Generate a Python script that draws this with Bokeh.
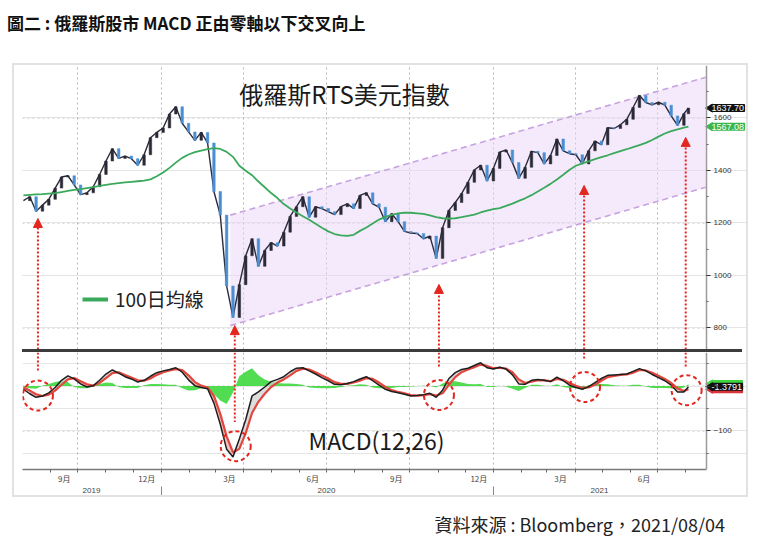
import numpy as np
import pandas as pd
from bokeh.plotting import figure
from bokeh.core.properties import value
from bokeh.models import (ColumnDataSource, Range1d, LinearAxis, FixedTicker, Grid, Label,
                          Legend, LegendItem, Arrow, NormalHead, Div, Spacer, CustomJSTickFormatter)
from bokeh.layouts import column
from bokeh.embed import file_html
from bokeh.resources import INLINE

FONT = "Noto Sans CJK TC"

# ---------------- data ----------------
week_dates = list(pd.date_range("2019-08-02", "2021-07-30", freq="W-FRI")) + [pd.Timestamp("2021-08-04")]

rts_close = [
    1285, 1300, 1245, 1268, 1290, 1333, 1375, 1380, 1345, 1308,
    1315, 1338, 1385, 1436, 1483, 1446, 1455, 1445, 1420, 1460,
    1525, 1545, 1562, 1615, 1643, 1580, 1547, 1515, 1545, 1505,
    1320, 1230, 960, 840, 965, 1075, 1140, 1035, 1095, 1125,
    1112, 1165, 1225, 1262, 1300, 1222, 1262, 1255, 1243, 1232,
    1262, 1273, 1255, 1305, 1315, 1273, 1260, 1205, 1235, 1205,
    1168, 1162, 1160, 1140, 1150, 1065, 1182, 1248, 1278, 1312,
    1355, 1402, 1420, 1360, 1408, 1470, 1478, 1430, 1370, 1412,
    1473, 1468, 1425, 1457, 1520, 1475, 1464, 1460, 1425, 1475,
    1512, 1498, 1563, 1560, 1574, 1595, 1640, 1686, 1659, 1650,
    1660, 1649, 1608, 1572, 1616, 1637.70]

ma100 = [
    1305, 1307, 1309, 1310, 1312, 1314, 1318, 1322, 1326, 1329,
    1333, 1337, 1341, 1345, 1349, 1352, 1355, 1357, 1359, 1361,
    1366, 1378, 1392, 1410, 1430, 1448, 1461, 1470, 1476, 1481,
    1485, 1482, 1471, 1452, 1418, 1399, 1382, 1358, 1336, 1314,
    1295, 1272, 1255, 1240, 1226, 1212, 1197, 1182, 1168, 1158,
    1153, 1151, 1155, 1170, 1183, 1198, 1213, 1223, 1231, 1237,
    1239, 1239, 1237, 1235, 1229, 1222, 1218, 1217, 1218, 1222,
    1227, 1232, 1240, 1247, 1253, 1257, 1265, 1274, 1284, 1294,
    1306, 1320, 1334, 1349, 1366, 1384, 1403, 1418, 1427, 1435,
    1443, 1451, 1458, 1466, 1474, 1481, 1489, 1497, 1505, 1516,
    1529, 1541, 1550, 1557, 1563, 1567.08]

macd_line = [
    -7, -17, -25, -22, -15, -3, 13, 23, 16, 5,
    -2, 1, 13, 27, 36, 29, 21, 16, 9, 13,
    22, 30, 34, 37, 41, 31, 14, 1, -3, -6,
    -38, -85, -141, -158, -118, -75, -22, -13, -2, 10,
    15, 21, 32, 40, 41, 34, 27, 19, 12, 4,
    3, 6, 10, 16, 21, 12, 2, -7, -12, -15,
    -18, -22, -21, -19, -16, -25, -9, 17, 30, 37,
    40, 46, 52, 41, 38, 42, 38, 25, 5, 4,
    13, 15, 13, 10, 20, 12, 2, -3, -7, -1,
    8, 17, 24, 25, 26, 27, 33, 39, 34, 26,
    19, 12, 2, -13, -13, -1.3791]

signal_line = [
    -3, -10, -18, -22, -19, -10, 3, 15, 18, 11,
    4, 1, 7, 18, 29, 31, 25, 19, 13, 12,
    17, 25, 31, 35, 38, 36, 24, 9, 1, -3,
    -22, -62, -112, -148, -140, -105, -60, -35, -17, -2,
    8, 15, 24, 34, 39, 37, 31, 24, 17, 9,
    5, 5, 8, 12, 18, 16, 8, -2, -9, -13,
    -16, -20, -21, -20, -18, -21, -16, 3, 20, 31,
    37, 42, 48, 45, 40, 41, 39, 31, 15, 7,
    10, 13, 13, 11, 16, 14, 7, 1, -4, -3,
    3, 12, 20, 23, 25, 26, 30, 36, 35, 30,
    23, 16, 7, -5, -11, -7]

macd_hist = [
    -2, -5, -6, 1, 5, 9, 12, 9, -2, -5,
    -5, -1, 5, 8, 7, -2, -4, -4, -4, 2,
    5, 5, 4, 3, 3, -5, -10, -9, -5, -4,
    -18, -32, -40, -14, 22, 32, 40, 24, 15, 10,
    7, 6, 6, 5, 3, -3, -4, -5, -5, -4,
    -2, 1, 2, 4, 3, -3, -5, -5, -4, -2,
    -2, -1, 0, 1, 1, -3, 6, 12, 11, 8,
    5, 4, 5, -2, -2, 1, -1, -6, -11, -4,
    3, 3, 1, 0, 4, -2, -4, -4, -3, 2,
    5, 5, 4, 2, 1, 1, 3, 3, -1, -4,
    -4, -4, -5, -8, -3, 5]

channel_dates = ["2020-03-17", "2021-08-23"]
channel_upper = [1230, 1755]
channel_lower = [809, 1336]

arrow_dates = ["2019-08-18", "2020-03-22", "2020-11-02", "2021-04-11", "2021-08-01"]
arrow_price_tip = [1217, 809, 966, 1343, 1526]
arrow_macd_end = [31, -80, 42, 58, 42]

circle_dates = ["2019-08-18", "2020-03-23", "2020-11-02", "2021-04-12", "2021-08-02"]
circle_macd = [-21, -134, -20, -2, -9]

price_ticks = [800, 1000, 1200, 1400, 1600]
price_minor = [900, 1100, 1300, 1500, 1700]
macd_ticks = [0, -100]
macd_minor = [50, -50, -150]

quarter_starts = ["2019-10-01", "2020-01-01", "2020-04-01", "2020-07-01",
                  "2020-10-01", "2021-01-01", "2021-04-01", "2021-07-01"]
month_label_dates = ["2019-09-16", "2019-12-16", "2020-03-16", "2020-06-16",
                     "2020-09-16", "2020-12-16", "2021-03-16", "2021-06-16"]
month_labels = ["9月", "12月", "3月", "6月", "9月", "12月", "3月", "6月"]
year_label_dates = ["2019-10-16", "2020-07-01", "2021-04-28"]
year_labels = ["2019", "2020", "2021"]
year_starts = ["2020-01-01", "2021-01-01"]

title_text = "圖二 : 俄羅斯股市 MACD 正由零軸以下交叉向上"
chart_title = "俄羅斯RTS美元指數"
legend_text = "100日均線"
macd_text = "MACD(12,26)"
source_text = "資料來源 : Bloomberg，2021/08/04"

# ---------------- helpers ----------------
def ms(d):
    return pd.Timestamp(d).value / 1e6

def ms_list(ds):
    return [ms(d) for d in ds]

LABEL_JS = "const i = tvals.indexOf(tick); return i >= 0 ? tlabels[i] : '';"

RED = "#e3261f"
GREEN_MA = "#3aa95c"
x_start = pd.Timestamp("2019-08-01")
axis_date = pd.Timestamp("2021-08-24")      # where the value axis sits
x_range = Range1d(x_start, pd.Timestamp("2021-10-07"))  # extra room right of the axis for value boxes

def style_right_axis(ax):
    ax.axis_line_color = "#9a9a9a"
    ax.axis_line_width = 1.5
    ax.major_tick_out = 4
    ax.major_tick_in = 0
    ax.minor_tick_out = 2
    ax.minor_tick_in = 0
    ax.major_tick_line_color = "#333"
    ax.minor_tick_line_color = "#666"
    ax.major_label_text_font_size = "8px"
    ax.major_label_text_color = "#333"
    ax.major_label_text_font = "Liberation Sans"
    ax.major_label_standoff = 3

def value_box(fig, yval, text, bg, fg="white", alpha=1.0):
    fig.scatter(x=[axis_date + pd.Timedelta(days=4)], y=[yval], marker="triangle",
                size=8, angle=np.pi / 2, fill_color=bg, line_color=bg)
    fig.text(x=[axis_date], y=[yval], text=[text], x_offset=4, text_baseline="middle",
             text_align="left", text_font_size="9px", text_color=fg, text_alpha=alpha,
             text_font=value("Liberation Sans"), background_fill_color=bg,
             padding=1, border_radius=1)

def hgrid(fig, ticks):
    n = len(ticks)
    fig.segment(x0=[x_start] * n, y0=ticks, x1=[axis_date] * n, y1=ticks,
                line_color="#b5b5b5", line_dash="2 3", line_width=1, level="underlay")

# ---------------- price panel ----------------
p = figure(x_axis_type=None, y_axis_location=None, x_range=x_range,
           y_range=Range1d(718, 1800), frame_width=724, frame_height=284,
           min_border_left=8, min_border_right=0, min_border_top=0, min_border_bottom=0,
           output_backend="svg", toolbar_location=None, outline_line_color=None)

pax = LinearAxis(ticker=FixedTicker(ticks=price_ticks, minor_ticks=price_minor),
                 fixed_location=ms(axis_date))
style_right_axis(pax)
p.add_layout(pax, "right")

hgrid(p, price_ticks)
p.add_layout(Grid(dimension=0, ticker=FixedTicker(ticks=ms_list(quarter_starts)),
                  grid_line_color="#b5b5b5", grid_line_dash="2 3", grid_line_width=1))

cd = pd.to_datetime(channel_dates)
p.patch(x=[cd[0], cd[1], cd[1], cd[0]],
        y=[channel_upper[0], channel_upper[1], channel_lower[1], channel_lower[0]],
        fill_color="#ecd6f7", fill_alpha=0.5, line_color=None)
p.line(cd, channel_upper, line_color="#c7a3df", line_width=1.6, line_dash="6 4")
p.line(cd, channel_lower, line_color="#c7a3df", line_width=1.6, line_dash="6 4")

closes = np.array(rts_close, dtype=float)
prev = closes[:-1]
cur = closes[1:]
csrc = ColumnDataSource(dict(
    x=week_dates[1:],
    top=np.maximum(prev, cur),
    bottom=np.minimum(prev, cur),
    color=np.where(cur >= prev, "#2a2a36", "#4a8fd3"),
))
p.line(week_dates, rts_close, line_color="#2a2a3a", line_width=1.4)
p.vbar(x="x", top="top", bottom="bottom", width=2.8 * 86400000, fill_color="color",
       line_color="color", line_width=0.5, source=csrc)

ma_r = p.line(week_dates, ma100, line_color=GREEN_MA, line_width=1.8)

legend_dummy = p.line(x=[week_dates[0]], y=[np.nan], line_color=GREEN_MA, line_width=4)
leg = Legend(items=[LegendItem(label=legend_text, renderers=[legend_dummy])],
             location=(60, 37), background_fill_alpha=0, border_line_color=None,
             label_text_font_size="19px", label_text_font=FONT, label_text_color="#222",
             glyph_width=26, glyph_height=20, padding=0, margin=0, label_standoff=7)
p.add_layout(leg)

asrc = ColumnDataSource(dict(x=pd.to_datetime(arrow_dates),
                             y0=[p.y_range.start] * len(arrow_dates),
                             y1=arrow_price_tip))
p.add_layout(Arrow(source=asrc, x_start="x", y_start="y0", x_end="x", y_end="y1",
                   line_color=RED, line_width=2, line_dash="2 2",
                   end=NormalHead(size=9, fill_color=RED, line_color=RED)))

p.add_layout(Label(x=322, y=256, x_units="screen", y_units="screen", text=chart_title,
                   text_align="center", text_baseline="middle", text_font_size="24px",
                   text_font=FONT, text_color="#1a1a1a"))

value_box(p, rts_close[-1], f"{rts_close[-1]:.2f}", "#111111")
value_box(p, ma100[-1], f"{ma100[-1]:.2f}", "#39b54a")

# ---------------- MACD panel ----------------
m = figure(x_axis_type=None, y_axis_location=None, x_range=x_range,
           y_range=Range1d(-186, 75), frame_width=724, frame_height=117,
           min_border_left=8, min_border_right=0, min_border_top=0, min_border_bottom=0,
           output_backend="svg", toolbar_location=None, outline_line_color=None)

max_ = LinearAxis(ticker=FixedTicker(ticks=macd_ticks, minor_ticks=macd_minor),
                  fixed_location=ms(axis_date))
style_right_axis(max_)
m.add_layout(max_, "right")

hgrid(m, macd_ticks)
m.add_layout(Grid(dimension=0, ticker=FixedTicker(ticks=ms_list(quarter_starts)),
                  grid_line_color="#b5b5b5", grid_line_dash="2 3", grid_line_width=1))

mon_ticks = ms_list(month_label_dates)
month_axis = LinearAxis(
    ticker=FixedTicker(ticks=mon_ticks,
                       minor_ticks=ms_list(pd.date_range("2019-09-01", "2021-08-01", freq="MS"))),
    formatter=CustomJSTickFormatter(args=dict(tvals=mon_ticks, tlabels=month_labels), code=LABEL_JS),
    bounds=(x_start, axis_date))
month_axis.axis_line_color = "#7a7a7a"
month_axis.axis_line_width = 1.5
month_axis.major_tick_line_color = None
month_axis.major_tick_out = 0
month_axis.major_tick_in = 0
month_axis.minor_tick_out = 3
month_axis.minor_tick_in = 0
month_axis.minor_tick_line_color = "#666"
month_axis.major_label_standoff = 0
month_axis.major_label_text_font_size = "8px"
month_axis.major_label_text_font = FONT
month_axis.major_label_text_color = "#444"
m.add_layout(month_axis, "below")

yr_ticks = ms_list(year_label_dates)
year_axis = LinearAxis(
    ticker=FixedTicker(ticks=yr_ticks, minor_ticks=ms_list(year_starts)),
    formatter=CustomJSTickFormatter(args=dict(tvals=yr_ticks, tlabels=year_labels), code=LABEL_JS))
year_axis.axis_line_color = None
year_axis.major_tick_line_color = None
year_axis.major_tick_out = 0
year_axis.major_tick_in = 0
year_axis.minor_tick_out = 10
year_axis.minor_tick_in = 0
year_axis.minor_tick_line_color = "#888"
year_axis.major_label_standoff = -9
year_axis.major_label_text_font_size = "8px"
year_axis.major_label_text_font = "Liberation Sans"
year_axis.major_label_text_color = "#444"
m.add_layout(year_axis, "below")

mv = np.array(macd_line, dtype=float)
sv = np.array(signal_line, dtype=float)
msrc = ColumnDataSource(dict(
    x=week_dates, macd=mv, sig=sv, hist=macd_hist,
    pink_top=np.maximum(mv, sv), gray_top=np.maximum(sv, mv),
))
m.varea(x="x", y1=0, y2="hist", source=msrc, fill_color="#3ed83e", fill_alpha=0.9)
m.varea(x="x", y1="macd", y2="pink_top", source=msrc, fill_color="#f0a3a3", fill_alpha=0.7)
m.varea(x="x", y1="sig", y2="gray_top", source=msrc, fill_color="#cfcfcf", fill_alpha=0.7)
m.line(x="x", y="sig", source=msrc, line_color="#e2463d", line_width=2.2)
m.line(x="x", y="macd", source=msrc, line_color="#1e1e1e", line_width=1.5)

ad = pd.to_datetime(arrow_dates)
m.segment(x0=ad, y0=[m.y_range.end] * len(ad), x1=ad, y1=arrow_macd_end,
          line_color=RED, line_width=2, line_dash="2 2")
m.scatter(x=pd.to_datetime(circle_dates), y=circle_macd, marker="circle", size=30,
          fill_color=None, line_color=RED, line_width=2, line_dash="4 3")

m.add_layout(Label(x=354, y=30, x_units="screen", y_units="screen", text=macd_text,
                   text_align="center", text_baseline="middle", text_font_size="23px",
                   text_font=FONT, text_color="#1a1a1a"))

macd_label = f"{macd_line[-1]:.4f}"
value_box(m, 5, macd_label, "#3ed83e", fg="#3ed83e", alpha=0)
value_box(m, -7, macd_label, "#d8343a", fg="#d8343a", alpha=0)
value_box(m, macd_line[-1], macd_label, "#111111")

# ---------------- layout ----------------
sep = Spacer(width=720, height=3, margin=(0, 0, 0, 8), styles={"background-color": "#3c3c3c"})
chart_box = column(p, sep, m, margin=(0, 0, 0, 14),
                   styles={"box-shadow": "0 0 0 2px #e2e2e2", "background-color": "white"})

title_div = Div(text=title_text, width=740, height=56, margin=(9, 0, 0, 7),
                styles={"font-size": "17px", "font-family": f"'{FONT}'", "color": "#111",
                        "font-weight": "bold", "line-height": "28px"})
source_div = Div(text=source_text, width=725, height=28, margin=(16, 0, 0, 0),
                 styles={"font-size": "18px", "font-family": f"'{FONT}'", "color": "#222",
                         "text-align": "right", "line-height": "26px"})

layout = column(title_div, chart_box, source_div)
open("out.html", "w").write(file_html(layout, INLINE))
